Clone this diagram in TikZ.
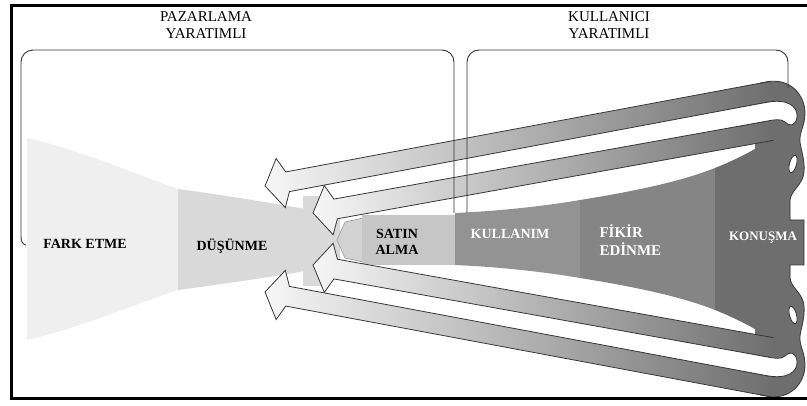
\documentclass[tikz,border=0pt]{standalone}
\usepackage{fontspec}
\setmainfont{Liberation Serif}
\usetikzlibrary{positioning}
\definecolor{farkcolor}{RGB}{239,239,239}
\definecolor{dusuncolor}{RGB}{217,217,217}
\definecolor{neckcolor}{RGB}{211,211,211}
\definecolor{satincolor}{RGB}{198,198,198}
\definecolor{kullancolor}{RGB}{147,147,147}
\definecolor{fikircolor}{RGB}{133,133,133}
\definecolor{loopgray}{RGB}{110,110,110}
\definecolor{bandlight}{RGB}{246,246,246}
\definecolor{bandmid}{RGB}{196,196,196}
\definecolor{edgegray}{RGB}{55,55,55}

\begin{document}
\begin{tikzpicture}[
    x=1pt, y=-1pt,
    band/.style={left color=bandlight, middle color=bandmid, right color=loopgray},
    bandedge/.style={draw=edgegray, line width=0.8pt},
    bracket/.style={draw=black!80, line width=0.9pt},
    frame/.style={draw=black, line width=3pt},
    toplabel/.style={font=\fontsize{15}{17}\selectfont, align=center},
    darklabel/.style={font=\fontsize{14}{16}\selectfont\bfseries, align=center},
    whitelabel/.style={darklabel, text=white}
]
\useasboundingbox (0,0) rectangle (807,406);

% Funnel stages
\fill[farkcolor] (27,138) .. controls (80,150) and (130,172) .. (178,189) -- (178,290)
    .. controls (130,306) and (80,328) .. (27,340) -- cycle;
\fill[dusuncolor] (178,189) .. controls (230,196) and (270,203) .. (300,208) -- (340,216)
    -- (340,262) -- (300,272) .. controls (270,277) and (230,283) .. (178,290) -- cycle;
\fill[dusuncolor] (303,196) rectangle (322,286);
\filldraw[fill=neckcolor, draw=black!45, line width=0.5pt] (337,240) -- (345,222) -- (363,218)
    -- (363,262) -- (345,258) -- cycle;
\fill[satincolor] (362,215) rectangle (455,265);
\fill[kullancolor] (455,213) .. controls (500,211) and (545,206) .. (580,200) -- (580,278)
    .. controls (545,272) and (500,267) .. (455,265) -- cycle;
\fill[fikircolor] (580,200) .. controls (630,192) and (680,182) .. (715,168) -- (715,310)
    .. controls (680,296) and (630,286) .. (580,278) -- cycle;
\fill[loopgray] (715,168) .. controls (735,160) and (750,152) .. (760,146) -- (790,140)
    -- (790,338) -- (760,332) .. controls (750,326) and (735,318) .. (715,310) -- cycle;

% Loop body on the right
\fill[loopgray] (760,83.2) -- (767,81.9) .. controls (790,77.5) and (805,95) .. (805,113)
    .. controls (805,126) and (799,132) .. (800,142) .. controls (801,150) and (805,160) .. (804,172)
    .. controls (803,185) and (791,190) .. (790,200) -- (790,220) -- (804,220) -- (804,265)
    -- (790,265) -- (790,278) .. controls (791,288) and (803,293) .. (804,306)
    .. controls (805,318) and (801,328) .. (800,336) .. controls (799,346) and (805,352) .. (805,365)
    .. controls (805,383) and (790,400.5) .. (767,396.1) -- (760,394.8) -- (755,393) -- (755,85) -- cycle;

% Feedback bands
\begin{scope}[shift={(265,186)}, rotate=10.6]
  \shade[band] (0,0) -- (16,-25) -- (23,-10) -- (516,-10) -- (516,10) -- (23,10) -- (16,25) -- cycle;
  \draw[bandedge] (516,-10) -- (23,-10) -- (16,-25) -- (0,0) -- (16,25) -- (23,10) -- (516,10);
\end{scope}
\begin{scope}[shift={(313,213)}, rotate=10.2]
  \shade[band] (0,0) -- (16,-25) -- (23,-10) -- (466,-10) -- (466,10) -- (23,10) -- (16,25) -- cycle;
  \draw[bandedge] (466,-10) -- (23,-10) -- (16,-25) -- (0,0) -- (16,25) -- (23,10) -- (466,10);
\end{scope}
\begin{scope}[shift={(313,265)}, rotate=-10.2]
  \shade[band] (0,0) -- (16,-25) -- (23,-10) -- (466,-10) -- (466,10) -- (23,10) -- (16,25) -- cycle;
  \draw[bandedge] (466,-10) -- (23,-10) -- (16,-25) -- (0,0) -- (16,25) -- (23,10) -- (466,10);
\end{scope}
\begin{scope}[shift={(265,292)}, rotate=-10.6]
  \shade[band] (0,0) -- (16,-25) -- (23,-10) -- (516,-10) -- (516,10) -- (23,10) -- (16,25) -- cycle;
  \draw[bandedge] (516,-10) -- (23,-10) -- (16,-25) -- (0,0) -- (16,25) -- (23,10) -- (516,10);
\end{scope}

% Gaps between the bands at the turn
\fill[white] (740,107.3) -- (767,102.3) .. controls (787,98.5) and (798,106) .. (797,117)
    .. controls (796,126) and (789,127) .. (785,122) .. controls (781,118.5) and (775,119.6) .. (767,121.1)
    -- (740,126) -- cycle;
\draw[bandedge] (740,107.3) -- (767,102.3) .. controls (787,98.5) and (798,106) .. (797,117)
    .. controls (796,126) and (789,127) .. (785,122) .. controls (781,118.5) and (775,119.6) .. (767,121.1)
    -- (740,126);
\fill[white] (740,370.7) -- (767,375.7) .. controls (787,379.5) and (798,372) .. (797,361)
    .. controls (796,352) and (789,351) .. (785,356) .. controls (781,359.5) and (775,358.4) .. (767,356.9)
    -- (740,352) -- cycle;
\draw[bandedge] (740,370.7) -- (767,375.7) .. controls (787,379.5) and (798,372) .. (797,361)
    .. controls (796,352) and (789,351) .. (785,356) .. controls (781,359.5) and (775,358.4) .. (767,356.9)
    -- (740,352);
\filldraw[fill=white, bandedge] (793,164) ellipse [x radius=3.5, y radius=9, rotate=-15];
\filldraw[fill=white, bandedge] (793,315) ellipse [x radius=3.5, y radius=9, rotate=15];

% Outline of the loop body
\draw[bandedge] (760,83.2) -- (767,81.9) .. controls (790,77.5) and (805,95) .. (805,113)
    .. controls (805,126) and (799,132) .. (800,142) .. controls (801,150) and (805,160) .. (804,172)
    .. controls (803,185) and (791,190) .. (790,200) -- (790,220) -- (804,220) -- (804,265)
    -- (790,265) -- (790,278) .. controls (791,288) and (803,293) .. (804,306)
    .. controls (805,318) and (801,328) .. (800,336) .. controls (799,346) and (805,352) .. (805,365)
    .. controls (805,383) and (790,400.5) .. (767,396.1) -- (760,394.8);

% Group brackets
\draw[bracket] (26,245) .. controls (22,244) and (21,241) .. (21,236) [rounded corners=12pt]
    -- (21,50) -- (454,50) -- (454,213);
\draw[bracket] (467,213) [rounded corners=12pt] -- (467,50) -- (788,50) -- (788,88);

% Outer frame
\draw[frame] (11,5.5) rectangle (809,399);

% Labels
\node[toplabel] (pazarlama) at (206,25) {PAZARLAMA\\YARATIMLI};
\node[toplabel] (kullanici) at (609,25) {KULLANICI\\YARATIMLI};
\node[darklabel] (farketme) at (85,244) {FARK ETME};
\node[darklabel] (dusunme) at (232,246) {DÜŞÜNME};
\node[darklabel, font=\fontsize{14}{16}\selectfont\bfseries] (satinalma) at (397,242) {SATIN\\ALMA};
\node[whitelabel] (kullanim) at (510,234) {KULLANIM};
\node[whitelabel, font=\fontsize{15}{18}\selectfont\bfseries, anchor=west, align=left] (fikir) at (596,240) {FİKİR\\EDİNME};
\node[whitelabel, font=\fontsize{13}{15}\selectfont\bfseries] (konusma) at (763,238) {KONUŞMA};

\end{tikzpicture}
\end{document}
